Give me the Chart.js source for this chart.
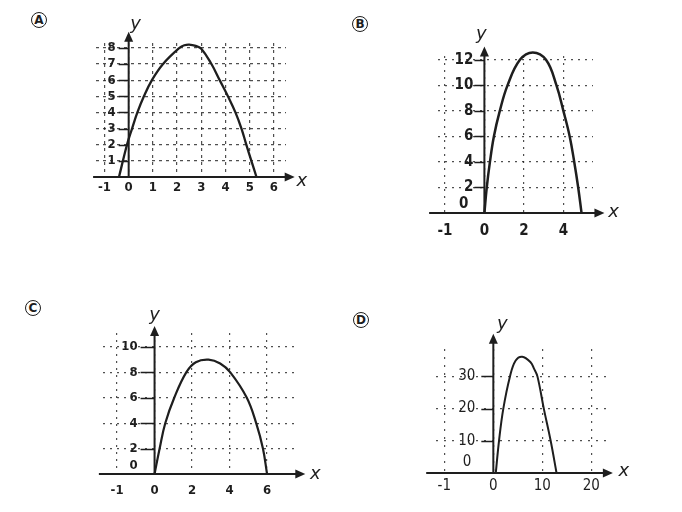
<!DOCTYPE html>
<html>
<head>
<meta charset="utf-8">
<script src="https://cdn.jsdelivr.net/npm/chart.js@4.4.1/dist/chart.umd.min.js"></script>
<style>
  html, body { margin: 0; padding: 0; background: #fff; }
  #page { position: relative; width: 682px; height: 512px; overflow: hidden; background: #fff; }
  #page canvas { position: absolute; left: 0; top: 0; }
  .tag {
    position: absolute; width: 14px; height: 14px;
    border: 1.7px solid #1e1e1e; border-radius: 50%;
    font: bold 12px "DejaVu Sans", sans-serif; line-height: 14px;
    text-align: center; color: #1e1e1e;
  }
</style>
</head>
<body>
<div id="page">
  <div class="tag" style="left:31px;top:12px">A</div>
  <div class="tag" style="left:352px;top:16px">B</div>
  <div class="tag" style="left:25px;top:300px">C</div>
  <div class="tag" style="left:353px;top:312px">D</div>
  <canvas id="chartA" width="682" height="512"></canvas>
  <canvas id="chartB" width="682" height="512"></canvas>
  <canvas id="chartC" width="682" height="512"></canvas>
  <canvas id="chartD" width="682" height="512"></canvas>
</div>
<script>
// ─── DATA ───────────────────────────────────────────
const aX = [-0.4, -0.07, 0.14, 0.36, 0.63, 0.96, 1.42, 2.1, 2.3, 2.5, 2.77, 3.0, 3.42, 3.76, 4.1, 4.41, 4.66, 4.86, 5.07, 5.28];
const aY = [0, 2, 3, 4, 5, 6, 7, 8, 8.16, 8.2, 8.12, 7.95, 7, 6, 5, 4, 3, 2, 1, 0];
const aXTicks = [-1, 0, 1, 2, 3, 4, 5, 6];
const aXLabels = ['-1', '0', '1', '2', '3', '4', '5', '6'];
const aYTicks = [1, 2, 3, 4, 5, 6, 7, 8];
const aYLabels = ['1', '2', '3', '4', '5', '6', '7', '8'];

const bX = [0, 0.12, 0.28, 0.48, 0.78, 1.17, 1.8, 2.45, 3.12, 3.65, 4.0, 4.32, 4.55, 4.75, 4.92];
const bY = [0, 2, 4, 6, 8, 10, 12, 12.58, 12, 10, 8, 6, 4, 2, 0];
// the "-1" tick is drawn one full step (2 units) left of 0 in the picture
const bXTicks = [-2, 0, 2, 4];
const bXLabels = ['-1', '0', '2', '4'];
const bYTicks = [2, 4, 6, 8, 10, 12];
const bYLabels = ['2', '4', '6', '8', '10', '12'];

const cX = [0, 0.27, 0.57, 1.05, 1.69, 2.2, 2.88, 3.5, 4.04, 4.92, 5.42, 5.78, 6.0];
const cY = [0, 2, 4, 6, 8, 8.8, 9.0, 8.7, 8, 6, 4, 2, 0];
const cXTicks = [-2, 0, 2, 4, 6];
const cXLabels = ['-1', '0', '2', '4', '6'];
const cYTicks = [2, 4, 6, 8, 10];
const cYLabels = ['2', '4', '6', '8', '10'];

const dX = [0.5, 1.16, 2.04, 3.4, 4.56, 5.9, 7.6, 8.3, 9.0, 10.3, 11.7, 12.9];
const dY = [0, 10, 20, 30, 34.9, 36.1, 34.4, 32.4, 30, 20, 10, 0];
const dXTicks = [-10, 0, 10, 20];
const dXLabels = ['-1', '0', '10', '20'];
const dYTicks = [10, 20, 30];
const dYLabels = ['10', '20', '30'];

// ─── STYLE ──────────────────────────────────────────
const INK = '#1e1e1e';
const GRID = 'rgba(35,35,35,0.8)';
const PAGE_W = 682, PAGE_H = 512;

// axes with arrows, y tick marks, axis names and the "0" above the x axis
function axesPlugin(p) {
  return {
    id: 'axes',
    afterDraw(chart) {
      const { ctx } = chart;
      const sx = chart.scales.x, sy = chart.scales.y;
      const x0 = sx.getPixelForValue(0), y0 = sy.getPixelForValue(0);
      const xa = sx.getPixelForValue(p.axisX[0]), xb = sx.getPixelForValue(p.axisX[1]);
      const yb = sy.getPixelForValue(p.axisY);
      ctx.save();
      ctx.strokeStyle = INK;
      ctx.fillStyle = INK;

      ctx.lineWidth = 1.6;
      ctx.beginPath();
      sy.ticks.forEach(t => {
        const py = Math.round(sy.getPixelForValue(t.value)) + 0.5;
        ctx.moveTo(x0 - p.tickLen, py); ctx.lineTo(x0, py);
      });
      ctx.stroke();

      ctx.lineWidth = 2;
      ctx.beginPath();
      ctx.moveTo(xa, y0); ctx.lineTo(xb - 6, y0);
      ctx.moveTo(x0, y0); ctx.lineTo(x0, yb + 6);
      ctx.stroke();
      ctx.beginPath();
      ctx.moveTo(xb, y0); ctx.lineTo(xb - 10, y0 - 4.5); ctx.lineTo(xb - 10, y0 + 4.5);
      ctx.closePath(); ctx.fill();
      ctx.beginPath();
      ctx.moveTo(x0, yb); ctx.lineTo(x0 - 4.5, yb + 10); ctx.lineTo(x0 + 4.5, yb + 10);
      ctx.closePath(); ctx.fill();

      ctx.textAlign = 'center';
      ctx.textBaseline = 'middle';
      ctx.font = 'italic 18px "DejaVu Sans", sans-serif';
      ctx.fillText('x', xb + p.xName[0], y0 + p.xName[1]);
      ctx.fillText('y', x0 + p.yName[0], yb + p.yName[1]);
      if (p.zero) {
        ctx.textAlign = 'right';
        ctx.font = p.fontCss;
        ctx.fillText('0', x0 - p.zero[0], y0 - p.zero[1]);
      }
      ctx.restore();
    }
  };
}

function makePanel(id, xs, ys, xTicks, xLabels, yTicks, yLabels, p) {
  const family = '"DejaVu Sans Condensed", "DejaVu Sans", sans-serif';
  const font = { family, size: p.fontSize, weight: p.weight };
  p.fontCss = `${p.weight} ${p.fontSize}px ${family}`;
  // y labels are right-aligned at the axis position, so move that position left by tick + gap
  const pxPerX = (p.area.R - p.area.L) / (p.x[1] - p.x[0]);
  const labelX = -(p.tickLen + p.yPad) / pxPerX;

  return new Chart(document.getElementById(id), {
    type: 'scatter',
    data: {
      datasets: [{
        data: xs.map((x, i) => ({ x, y: ys[i] })),
        showLine: true,
        borderColor: INK,
        borderWidth: p.lineWidth,
        pointRadius: 0,
        tension: 0.4,
        clip: false,
      }]
    },
    options: {
      responsive: false,
      animation: false,
      events: [],
      layout: {
        padding: { left: p.area.L, right: PAGE_W - p.area.R, top: p.area.T, bottom: PAGE_H - p.area.B }
      },
      plugins: { legend: { display: false }, tooltip: { enabled: false } },
      scales: {
        x: {
          type: 'linear',
          min: p.x[0], max: p.x[1],
          position: { y: 0 },
          afterBuildTicks: axis => { axis.ticks = xTicks.map(v => ({ value: v })); },
          ticks: { color: INK, font, padding: p.xPad, autoSkip: false, maxRotation: 0, callback: (v, i) => xLabels[i] },
          grid: { color: GRID, lineWidth: 1.2, drawTicks: false },
          border: { display: false, dash: p.dash },
        },
        y: {
          type: 'linear',
          min: p.y[0], max: p.y[1],
          position: { x: labelX },
          afterBuildTicks: axis => { axis.ticks = yTicks.map(v => ({ value: v })); },
          ticks: { color: INK, font, padding: 0, autoSkip: false, callback: (v, i) => yLabels[i] },
          grid: { color: GRID, lineWidth: 1.2, drawTicks: false },
          border: { display: false, dash: p.dash },
        }
      }
    },
    plugins: [axesPlugin(p)]
  });
}

makePanel('chartA', aX, aY, aXTicks, aXLabels, aYTicks, aYLabels, {
  area: { L: 96, R: 286, T: 43, B: 177 }, x: [-1.35, 6.5], y: [0, 8.3],
  axisX: [-1.47, 6.86], axisY: 9.0, xName: [7, 4], yName: [7, -7],
  fontSize: 13, weight: 'bold', xPad: 3, yPad: 3, tickLen: 10, dash: [3, 4], lineWidth: 2.3,
});
makePanel('chartB', bX, bY, bXTicks, bXLabels, bYTicks, bYLabels, {
  area: { L: 438, R: 593, T: 56, B: 213 }, x: [-2.35, 5.5], y: [0, 12.3],
  axisX: [-2.8, 6.08], axisY: 13.05, xName: [9, -1], yName: [-3, -12], zero: [16, 9],
  fontSize: 15, weight: 'bold', xPad: 9, yPad: 1, tickLen: 10, dash: [2, 5], lineWidth: 2.5,
});
makePanel('chartC', cX, cY, cXTicks, cXLabels, cYTicks, cYLabels, {
  area: { L: 103, R: 298, T: 333, B: 474 }, x: [-2.75, 7.65], y: [0, 11.1],
  axisX: [-2.97, 8.04], axisY: 11.65, xName: [10, 0], yName: [0, -11], zero: [17, 8],
  fontSize: 13, weight: 'bold', xPad: 9, yPad: 3, tickLen: 14, dash: [2, 5], lineWidth: 2.2,
});
makePanel('chartD', dX, dY, dXTicks, dXLabels, dYTicks, dYLabels, {
  area: { L: 436, R: 607.5, T: 349, B: 473 }, x: [-11.7, 23.3], y: [0, 38.5],
  axisX: [-13.7, 24.4], axisY: 43.2, xName: [11, -2], yName: [9, -10], zero: [22, 11],
  fontSize: 15, weight: 'normal', xPad: 4, yPad: 6, tickLen: 12, dash: [2, 6], lineWidth: 2,
});
</script>
</body>
</html>
